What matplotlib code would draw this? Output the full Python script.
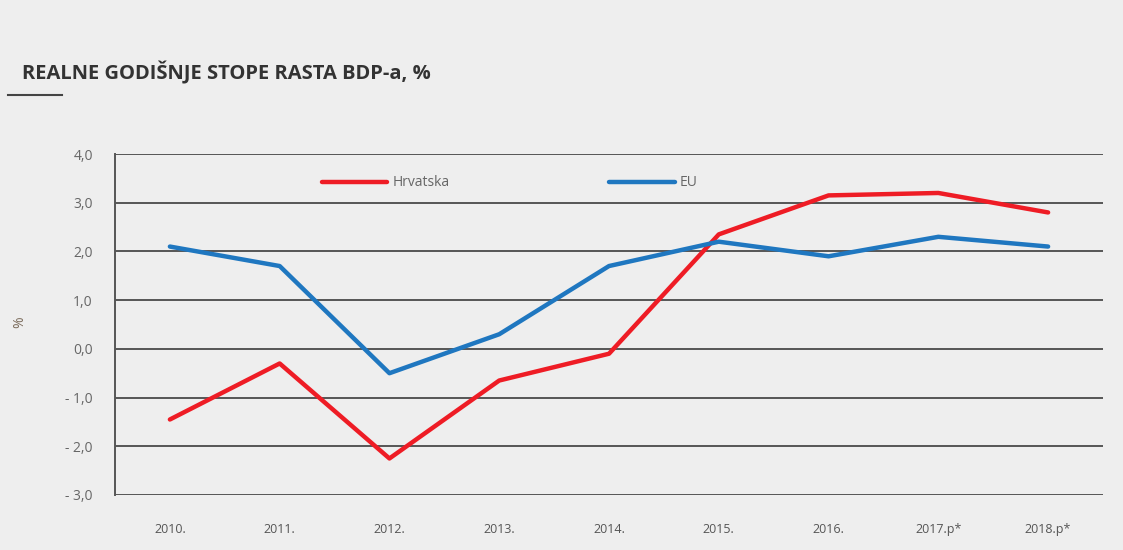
import matplotlib.pyplot as plt
import matplotlib.ticker as mticker

# podaci
godine = ["2010.", "2011.", "2012.", "2013.", "2014.", "2015.", "2016.", "2017.p*", "2018.p*"]
hrvatska = [-1.45, -0.3, -2.25, -0.65, -0.1, 2.35, 3.15, 3.2, 2.8]
eu = [2.1, 1.7, -0.5, 0.3, 1.7, 2.2, 1.9, 2.3, 2.1]

bg = "#eeeeee"
crvena = "#ee1c25"
plava = "#1f77c0"
siva = "#555555"

plt.rcParams['font.family'] = ['Open Sans', 'DejaVu Sans']

fig = plt.figure(figsize=(11.23, 5.5), dpi=100, facecolor=bg)
ax = fig.add_axes([115 / 1123, 1 - 495 / 550, 988 / 1123, 341 / 550], facecolor=bg)

x = [i + 0.5 for i in range(len(godine))]
ax.plot(x, hrvatska, color=crvena, lw=3.2, solid_capstyle='round', zorder=3)
ax.plot(x, eu, color=plava, lw=3.2, solid_capstyle='round', zorder=3)

ax.set_xlim(0, len(godine))
ax.set_ylim(-3, 4)
ax.set_yticks(range(-3, 5))
ax.yaxis.set_major_formatter(mticker.FuncFormatter(
    lambda v, p: ("- " + f"{abs(v):.1f}" if v < 0 else f"{v:.1f}").replace(".", ",")))
ax.set_xticks(x)
ax.set_xticklabels(godine)
ax.grid(axis='y', color=siva, lw=1.4)
ax.set_axisbelow(True)
for s in ['top', 'right', 'bottom']:
    ax.spines[s].set_visible(False)
ax.spines['left'].set_color(siva)
ax.spines['left'].set_linewidth(1.4)
ax.tick_params(axis='y', length=0, pad=16, labelsize=10, colors='#666666')
ax.tick_params(axis='x', length=0, pad=20, labelsize=9, colors='#555555')

# oznaka osi
fig.text(20 / 1123, 1 - 322 / 550, "%", rotation=90, color='#7a6a5a', fontsize=10,
         ha='center', va='center')

# legenda
ax.plot([1.89, 2.48], [3.42, 3.42], color=crvena, lw=3.2, solid_capstyle='round')
ax.text(2.53, 3.42, "Hrvatska", va='center', fontsize=10, color='#666666')
ax.plot([4.5, 5.1], [3.42, 3.42], color=plava, lw=3.2, solid_capstyle='round')
ax.text(5.14, 3.42, "EU", va='center', fontsize=10, color='#666666')

# naslov
fig.text(22 / 1123, 1 - 73 / 550, "REALNE GODIŠNJE STOPE RASTA BDP-a, %",
         fontsize=14.5, fontweight='bold', color='#333333', va='center')
fig.add_artist(plt.Line2D([8 / 1123, 62 / 1123], [1 - 95 / 550] * 2, color='#444444', lw=1.5))

fig.savefig("out.png", dpi=100, facecolor=bg)
